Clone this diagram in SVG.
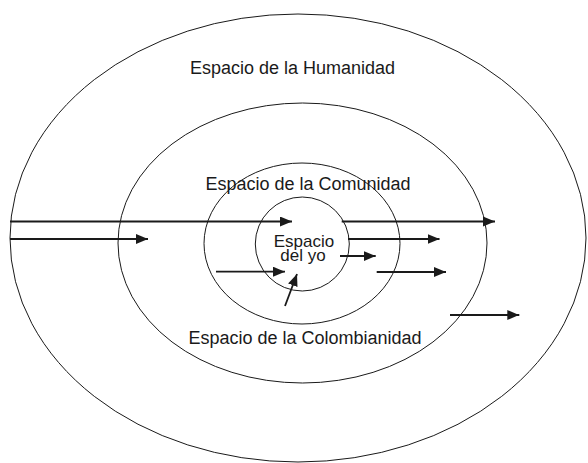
<svg xmlns="http://www.w3.org/2000/svg" width="588" height="463" viewBox="0 0 588 463">
<style>
.ring{fill:none;stroke:#1a1a1a;stroke-width:1}
.lbl{font-family:"Liberation Sans",Arial,sans-serif;font-size:18px;fill:#1a1a1a;text-anchor:middle}
.in{font-size:17px}
.arr{stroke:#1a1a1a;stroke-width:1.8;fill:none;marker-end:url(#ah)}
</style>
<defs>
<marker id="ah" markerWidth="12" markerHeight="10" refX="12" refY="5" orient="auto" markerUnits="userSpaceOnUse">
<path d="M0,0 L12,5 L0,10 Z" fill="#1a1a1a"/>
</marker>
</defs>
<rect width="588" height="463" fill="#ffffff"/>
<g id="humanidad">
<ellipse class="ring" cx="298" cy="238" rx="288" ry="224"/>
<text class="lbl" x="292.5" y="74.3">Espacio de la Humanidad</text>
</g>
<g id="colombianidad">
<ellipse class="ring" cx="302.5" cy="243" rx="184.5" ry="140"/>
<text class="lbl" x="305" y="344.3">Espacio de la Colombianidad</text>
</g>
<g id="comunidad">
<ellipse class="ring" cx="302" cy="243.5" rx="98" ry="80.5"/>
<text class="lbl" x="308" y="190.3">Espacio de la Comunidad</text>
</g>
<g id="yo">
<ellipse class="ring" cx="302.3" cy="244" rx="47" ry="47"/>
<text class="lbl in" x="304" y="246.7">Espacio</text>
<text class="lbl in" x="303" y="261">del yo</text>
</g>
<g id="connectors">
<line class="arr" x1="10" y1="221.5" x2="292" y2="221.5"/>
<line class="arr" x1="10" y1="239" x2="148" y2="239"/>
<line class="arr" x1="216" y1="271.7" x2="285" y2="271.7"/>
<line class="arr" x1="285" y1="306" x2="297" y2="274"/>
<line class="arr" x1="341.7" y1="221.5" x2="495" y2="221.5"/>
<line class="arr" x1="348" y1="239" x2="439.5" y2="239"/>
<line class="arr" x1="340" y1="256" x2="375.7" y2="256"/>
<line class="arr" x1="376.7" y1="272" x2="446" y2="272"/>
<line class="arr" x1="450" y1="315" x2="519.3" y2="315"/>
</g>
</svg>
